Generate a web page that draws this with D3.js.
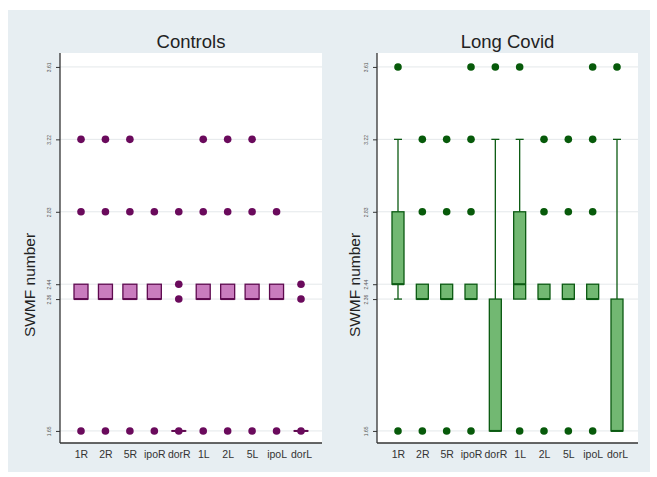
<!DOCTYPE html>
<html><head><meta charset="utf-8">
<script src="https://cdn.jsdelivr.net/npm/d3@7"></script>
<style>body{margin:0;background:#fff}svg{display:block}</style>
</head><body>
<script>
const categories = ["1R","2R","5R","ipoR","dorR","1L","2L","5L","ipoL","dorL"];
const yTicks = [1.65, 2.36, 2.44, 2.83, 3.22, 3.61];
const yTickLabels = ["1.65","2.36","2.44","2.83","3.22","3.61"];

// Controls
const ctrlQ1     = [2.36,2.36,2.36,2.36,1.65,2.36,2.36,2.36,2.36,1.65];
const ctrlMedian = [2.36,2.36,2.36,2.36,1.65,2.36,2.36,2.36,2.36,1.65];
const ctrlQ3     = [2.44,2.44,2.44,2.44,1.65,2.44,2.44,2.44,2.44,1.65];
const ctrlLo     = [2.36,2.36,2.36,2.36,1.65,2.36,2.36,2.36,2.36,1.65];
const ctrlHi     = [2.44,2.44,2.44,2.44,1.65,2.44,2.44,2.44,2.44,1.65];
const ctrlPoints = [[1.65,2.83,3.22],[1.65,2.83,3.22],[1.65,2.83,3.22],[1.65,2.83],[1.65,2.36,2.44,2.83],
                    [1.65,2.83,3.22],[1.65,2.83,3.22],[1.65,2.83,3.22],[1.65,2.83],[1.65,2.36,2.44]];

// Long Covid
const lcQ1     = [2.44,2.36,2.36,2.36,1.65,2.36,2.36,2.36,2.36,1.65];
const lcMedian = [2.44,2.36,2.36,2.36,1.65,2.44,2.36,2.36,2.36,1.65];
const lcQ3     = [2.83,2.44,2.44,2.44,2.36,2.83,2.44,2.44,2.44,2.36];
const lcLo     = [2.36,2.36,2.36,2.36,1.65,2.36,2.36,2.36,2.36,1.65];
const lcHi     = [3.22,2.44,2.44,2.44,3.22,3.22,2.44,2.44,2.44,3.22];
const lcPoints = [[1.65,3.61],[1.65,2.83,3.22],[1.65,2.83,3.22],[1.65,2.83,3.22,3.61],[3.61],
                  [1.65,3.61],[1.65,2.83,3.22],[1.65,2.83,3.22],[1.65,2.83,3.22,3.61],[3.61]];

const W = 657, H = 477;
const svg = d3.select("body").append("svg").attr("width", W).attr("height", H);
svg.append("rect").attr("x", 8).attr("y", 10).attr("width", 642).attr("height", 462).attr("fill", "#e7eef2");

const panels = [
  {title:"Controls", x0:60, x1:322, q1:ctrlQ1, med:ctrlMedian, q3:ctrlQ3, lo:ctrlLo, hi:ctrlHi, pts:ctrlPoints,
   fill:"#c97cbe", stroke:"#5e0a4f", dot:"#6a0a5c", boxW:14, labelX:30},
  {title:"Long Covid", x0:377, x1:638, q1:lcQ1, med:lcMedian, q3:lcQ3, lo:lcLo, hi:lcHi, pts:lcPoints,
   fill:"#72b872", stroke:"#0b5a12", dot:"#075a0a", boxW:12, labelX:355}
];
const plotTop = 53, plotBottom = 443;

panels.forEach(p => {
  const y = d3.scaleLinear().domain([1.585, 3.685]).range([plotBottom, plotTop]);
  const x = d3.scalePoint().domain(categories).range([p.x0 + 21, p.x1 - 21]);
  const g = svg.append("g");
  g.append("rect").attr("x", p.x0).attr("y", plotTop).attr("width", p.x1 - p.x0).attr("height", plotBottom - plotTop)
    .attr("fill", "#fff");
  g.selectAll("line.grid").data(yTicks).join("line")
    .attr("x1", p.x0).attr("x2", p.x1).attr("y1", d => y(d)).attr("y2", d => y(d))
    .attr("stroke", "#e4e8ea").attr("stroke-width", 1);
  const ya = g.append("g").attr("transform", `translate(${p.x0},0)`)
    .call(d3.axisLeft(y).tickValues(yTicks).tickFormat((d, i) => yTickLabels[i]).tickSize(4).tickPadding(3));
  ya.select(".domain").attr("stroke", "#333").attr("stroke-width", 1.3).attr("d", `M0,${plotTop}V${plotBottom}`);
  ya.selectAll(".tick line").attr("stroke", "#333");
  ya.selectAll(".tick text").attr("font-size", 5).attr("fill", "#555")
    .attr("font-family", "Liberation Sans, Arial, sans-serif")
    .attr("transform", "rotate(-90)").attr("x", 0).attr("y", -9).attr("dy", "0").attr("text-anchor", "middle");
  const xa = g.append("g").attr("transform", `translate(0,${plotBottom})`)
    .call(d3.axisBottom(x).tickSize(0).tickPadding(8));
  xa.select(".domain").attr("stroke", "#333").attr("stroke-width", 1.3).attr("d", `M${p.x0},0H${p.x1}`);
  xa.selectAll(".tick text").attr("font-size", 10.5).attr("fill", "#333")
    .attr("font-family", "Liberation Sans, Arial, sans-serif");
  svg.append("text").attr("x", (p.x0 + p.x1) / 2).attr("y", 48).attr("text-anchor", "middle")
    .attr("font-size", 18.5).attr("fill", "#222").attr("font-family", "Liberation Sans, Arial, sans-serif")
    .text(p.title);
  svg.append("text").attr("transform", `translate(${p.labelX},${285}) rotate(-90)`)
    .attr("text-anchor", "middle").attr("dy", "0.35em").attr("font-size", 15.5).attr("fill", "#222")
    .attr("font-family", "Liberation Sans, Arial, sans-serif").text("SWMF number");

  categories.forEach((c, i) => {
    const cx = x(c);
    const bw = p.boxW, cap = 8;
    if (p.hi[i] > p.q3[i]) {
      g.append("line").attr("x1", cx).attr("x2", cx).attr("y1", y(p.q3[i])).attr("y2", y(p.hi[i]))
        .attr("stroke", p.stroke).attr("stroke-width", 1.3);
      g.append("line").attr("x1", cx - cap/2).attr("x2", cx + cap/2).attr("y1", y(p.hi[i])).attr("y2", y(p.hi[i]))
        .attr("stroke", p.stroke).attr("stroke-width", 1.3);
    }
    if (p.lo[i] < p.q1[i]) {
      g.append("line").attr("x1", cx).attr("x2", cx).attr("y1", y(p.q1[i])).attr("y2", y(p.lo[i]))
        .attr("stroke", p.stroke).attr("stroke-width", 1.3);
      g.append("line").attr("x1", cx - cap/2).attr("x2", cx + cap/2).attr("y1", y(p.lo[i])).attr("y2", y(p.lo[i]))
        .attr("stroke", p.stroke).attr("stroke-width", 1.3);
    }
    g.append("rect").attr("x", cx - bw/2).attr("width", bw)
      .attr("y", y(p.q3[i])).attr("height", Math.max(0.01, y(p.q1[i]) - y(p.q3[i])))
      .attr("fill", p.fill).attr("stroke", p.stroke).attr("stroke-width", 1.3);
    g.append("line").attr("x1", cx - bw/2).attr("x2", cx + bw/2).attr("y1", y(p.med[i])).attr("y2", y(p.med[i]))
      .attr("stroke", p.stroke).attr("stroke-width", 2);
    g.selectAll(null).data(p.pts[i]).join("circle")
      .attr("cx", cx).attr("cy", d => y(d)).attr("r", 3.8).attr("fill", p.dot);
  });
});
</script>
</body></html>
